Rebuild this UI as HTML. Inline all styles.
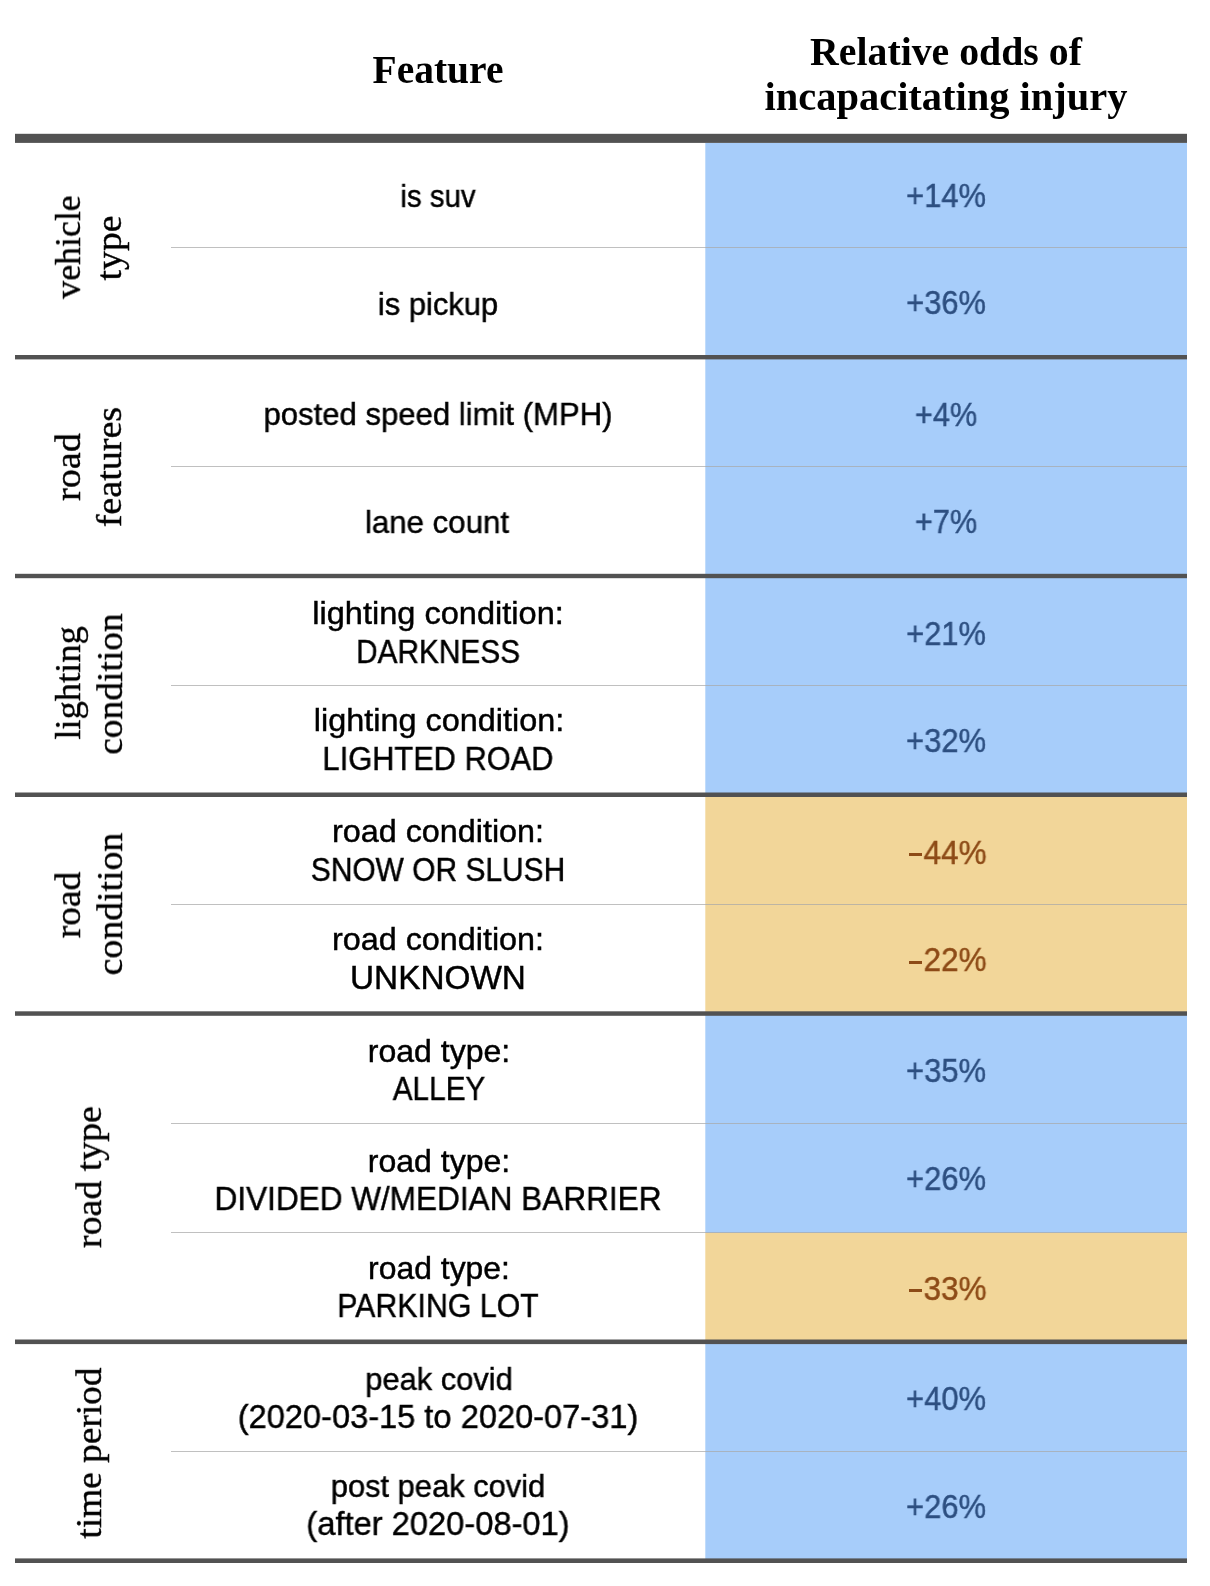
<!DOCTYPE html>
<html><head><meta charset="utf-8"><style>
html,body{margin:0;padding:0;background:#fff;}
body{width:1210px;height:1586px;position:relative;overflow:hidden;}
.a{position:absolute;}
.t,.h,.g{will-change:transform;}
.t{position:absolute;white-space:nowrap;font-family:"Liberation Sans",sans-serif;color:#000;-webkit-text-stroke:0.45px currentColor;text-align:center;width:800px;height:40px;line-height:40px;font-size:32.5px;}
.h{position:absolute;white-space:nowrap;font-family:"Liberation Serif",serif;font-weight:bold;color:#000;text-align:center;width:800px;height:50px;line-height:50px;}
.g{position:absolute;white-space:nowrap;font-family:"Liberation Serif",serif;color:#000;-webkit-text-stroke:0.35px #000;text-align:center;}
</style></head><body>

<div class="a" style="left:706px;top:143px;width:481px;height:105px;background:rgb(167, 205, 250);"></div>
<div class="a" style="left:705px;top:143px;width:1px;height:105px;background:rgba(167,205,250,0.70);"></div>
<div class="a" style="left:706px;top:248px;width:481px;height:107px;background:rgb(167, 205, 250);"></div>
<div class="a" style="left:705px;top:248px;width:1px;height:107px;background:rgba(167,205,250,0.70);"></div>
<div class="a" style="left:706px;top:359px;width:481px;height:108px;background:rgb(167, 205, 250);"></div>
<div class="a" style="left:705px;top:359px;width:1px;height:108px;background:rgba(167,205,250,0.70);"></div>
<div class="a" style="left:706px;top:467px;width:481px;height:107px;background:rgb(167, 205, 250);"></div>
<div class="a" style="left:705px;top:467px;width:1px;height:107px;background:rgba(167,205,250,0.70);"></div>
<div class="a" style="left:706px;top:578px;width:481px;height:108px;background:rgb(167, 205, 250);"></div>
<div class="a" style="left:705px;top:578px;width:1px;height:108px;background:rgba(167,205,250,0.70);"></div>
<div class="a" style="left:706px;top:686px;width:481px;height:107px;background:rgb(167, 205, 250);"></div>
<div class="a" style="left:705px;top:686px;width:1px;height:107px;background:rgba(167,205,250,0.70);"></div>
<div class="a" style="left:706px;top:796px;width:481px;height:109px;background:rgb(242, 214, 153);"></div>
<div class="a" style="left:705px;top:796px;width:1px;height:109px;background:rgba(242,214,153,0.70);"></div>
<div class="a" style="left:706px;top:905px;width:481px;height:107px;background:rgb(242, 214, 153);"></div>
<div class="a" style="left:705px;top:905px;width:1px;height:107px;background:rgba(242,214,153,0.70);"></div>
<div class="a" style="left:706px;top:1015px;width:481px;height:108px;background:rgb(167, 205, 250);"></div>
<div class="a" style="left:705px;top:1015px;width:1px;height:108px;background:rgba(167,205,250,0.70);"></div>
<div class="a" style="left:706px;top:1123px;width:481px;height:110px;background:rgb(167, 205, 250);"></div>
<div class="a" style="left:705px;top:1123px;width:1px;height:110px;background:rgba(167,205,250,0.70);"></div>
<div class="a" style="left:706px;top:1233px;width:481px;height:107px;background:rgb(242, 214, 153);"></div>
<div class="a" style="left:705px;top:1233px;width:1px;height:107px;background:rgba(242,214,153,0.70);"></div>
<div class="a" style="left:706px;top:1343px;width:481px;height:109px;background:rgb(167, 205, 250);"></div>
<div class="a" style="left:705px;top:1343px;width:1px;height:109px;background:rgba(167,205,250,0.70);"></div>
<div class="a" style="left:706px;top:1452px;width:481px;height:107px;background:rgb(167, 205, 250);"></div>
<div class="a" style="left:705px;top:1452px;width:1px;height:107px;background:rgba(167,205,250,0.70);"></div>
<div class="a" style="left:171px;top:247px;width:1016px;height:1px;background:rgba(168,168,168,0.73);"></div>
<div class="a" style="left:171px;top:466px;width:1016px;height:1px;background:rgba(168,168,168,0.73);"></div>
<div class="a" style="left:171px;top:685px;width:1016px;height:1px;background:rgba(168,168,168,0.73);"></div>
<div class="a" style="left:171px;top:904px;width:1016px;height:1px;background:rgba(168,168,168,0.73);"></div>
<div class="a" style="left:171px;top:1123px;width:1016px;height:1px;background:rgba(168,168,168,0.73);"></div>
<div class="a" style="left:171px;top:1232px;width:1016px;height:1px;background:rgba(168,168,168,0.73);"></div>
<div class="a" style="left:171px;top:1451px;width:1016px;height:1px;background:rgba(168,168,168,0.73);"></div>
<div class="a" style="left:15px;top:133px;width:1172px;height:1px;background:rgba(82,82,82,0.20);"></div>
<div class="a" style="left:15px;top:142px;width:1172px;height:1px;background:rgba(82,82,82,0.90);"></div>
<div class="a" style="left:15px;top:134px;width:1172px;height:8px;background:rgb(82,82,82);"></div>
<div class="a" style="left:15px;top:359px;width:1172px;height:1px;background:rgba(82,82,82,0.40);"></div>
<div class="a" style="left:15px;top:355px;width:1172px;height:4px;background:rgb(82,82,82);"></div>
<div class="a" style="left:15px;top:573px;width:1172px;height:1px;background:rgba(82,82,82,0.20);"></div>
<div class="a" style="left:15px;top:578px;width:1172px;height:1px;background:rgba(82,82,82,0.20);"></div>
<div class="a" style="left:15px;top:574px;width:1172px;height:4px;background:rgb(82,82,82);"></div>
<div class="a" style="left:15px;top:792px;width:1172px;height:1px;background:rgba(82,82,82,0.50);"></div>
<div class="a" style="left:15px;top:793px;width:1172px;height:4px;background:rgb(82,82,82);"></div>
<div class="a" style="left:15px;top:1011px;width:1172px;height:1px;background:rgba(82,82,82,0.70);"></div>
<div class="a" style="left:15px;top:1015px;width:1172px;height:1px;background:rgba(82,82,82,0.80);"></div>
<div class="a" style="left:15px;top:1012px;width:1172px;height:3px;background:rgb(82,82,82);"></div>
<div class="a" style="left:15px;top:1339px;width:1172px;height:1px;background:rgba(82,82,82,0.50);"></div>
<div class="a" style="left:15px;top:1344px;width:1172px;height:1px;background:rgba(82,82,82,0.10);"></div>
<div class="a" style="left:15px;top:1340px;width:1172px;height:4px;background:rgb(82,82,82);"></div>
<div class="a" style="left:15px;top:1558px;width:1172px;height:1px;background:rgba(82,82,82,0.60);"></div>
<div class="a" style="left:15px;top:1559px;width:1172px;height:4px;background:rgb(82,82,82);"></div>
<div class="h" style="left:38.00px;top:45.00px;font-size:39px;transform:scaleX(1.0125);">Feature</div>
<div class="h" style="left:545.70px;top:27.00px;font-size:39px;transform:scaleX(1.0199);">Relative odds of</div>
<div class="h" style="left:545.70px;top:72.00px;font-size:39px;transform:scaleX(1.0367);">incapacitating injury</div>
<div class="t" style="left:38.25px;top:176.00px;font-size:31.5px;transform:scaleX(0.9344);">is suv</div>
<div class="t" style="left:37.75px;top:284.00px;font-size:31.5px;transform:scaleX(0.9818);">is pickup</div>
<div class="t" style="left:37.50px;top:394.00px;font-size:31.5px;transform:scaleX(0.9874);">posted speed limit (MPH)</div>
<div class="t" style="left:37.25px;top:502.00px;font-size:31.5px;transform:scaleX(0.9903);">lane count</div>
<div class="t" style="left:38.25px;top:593.00px;font-size:31.5px;transform:scaleX(1.0335);">lighting condition:</div>
<div class="t" style="left:37.50px;top:632.00px;font-size:33.3px;transform:scaleX(0.8956);">DARKNESS</div>
<div class="t" style="left:38.75px;top:700.00px;font-size:31.5px;transform:scaleX(1.0285);">lighting condition:</div>
<div class="t" style="left:38.00px;top:739.00px;font-size:33.3px;transform:scaleX(0.9244);">LIGHTED ROAD</div>
<div class="t" style="left:38.00px;top:811.00px;font-size:31.5px;transform:scaleX(1.0266);">road condition:</div>
<div class="t" style="left:38.00px;top:850.00px;font-size:33.3px;transform:scaleX(0.8989);">SNOW OR SLUSH</div>
<div class="t" style="left:38.00px;top:919.00px;font-size:31.5px;transform:scaleX(1.0266);">road condition:</div>
<div class="t" style="left:38.25px;top:958.00px;font-size:33.3px;transform:scaleX(1.0012);">UNKNOWN</div>
<div class="t" style="left:38.50px;top:1031.00px;font-size:31.5px;transform:scaleX(1.0164);">road type:</div>
<div class="t" style="left:38.50px;top:1069.00px;font-size:33.3px;transform:scaleX(0.8933);">ALLEY</div>
<div class="t" style="left:38.50px;top:1141.00px;font-size:31.5px;transform:scaleX(1.0164);">road type:</div>
<div class="t" style="left:38.00px;top:1179.00px;font-size:33.3px;transform:scaleX(0.9479);">DIVIDED W/MEDIAN BARRIER</div>
<div class="t" style="left:38.50px;top:1248.00px;font-size:31.5px;transform:scaleX(1.0120);">road type:</div>
<div class="t" style="left:38.25px;top:1286.00px;font-size:33.3px;transform:scaleX(0.9101);">PARKING LOT</div>
<div class="t" style="left:38.50px;top:1359.00px;font-size:31.5px;transform:scaleX(0.9796);">peak covid</div>
<div class="t" style="left:38.10px;top:1397.00px;font-size:33.3px;transform:scaleX(0.9790);">(2020-03-15 to 2020-07-31)</div>
<div class="t" style="left:38.00px;top:1466.00px;font-size:31.5px;transform:scaleX(0.9786);">post peak covid</div>
<div class="t" style="left:37.70px;top:1504.00px;font-size:33.3px;transform:scaleX(0.9811);">(after 2020-08-01)</div>
<div class="t" style="left:546.20px;top:176.00px;font-size:33.3px;color:#2d4f80;transform:scaleX(0.9279);">+14%</div>
<div class="t" style="left:546.30px;top:283.00px;font-size:33.3px;color:#2d4f80;transform:scaleX(0.9254);">+36%</div>
<div class="t" style="left:546.40px;top:395.00px;font-size:33.3px;color:#2d4f80;transform:scaleX(0.9201);">+4%</div>
<div class="t" style="left:546.40px;top:502.00px;font-size:33.3px;color:#2d4f80;transform:scaleX(0.9201);">+7%</div>
<div class="t" style="left:546.30px;top:614.00px;font-size:33.3px;color:#2d4f80;transform:scaleX(0.9254);">+21%</div>
<div class="t" style="left:546.10px;top:721.00px;font-size:33.3px;color:#2d4f80;transform:scaleX(0.9302);">+32%</div>
<div class="a" style="left:908.6px;top:853.05px;width:13.4px;height:3px;background:#8d4b17;"></div>
<div class="t" style="left:554.80px;top:833.00px;font-size:33.3px;color:#8d4b17;transform:scaleX(0.9469);">44%</div>
<div class="a" style="left:908.6px;top:960.75px;width:13.4px;height:3px;background:#8d4b17;"></div>
<div class="t" style="left:554.80px;top:940.00px;font-size:33.3px;color:#8d4b17;transform:scaleX(0.9469);">22%</div>
<div class="t" style="left:546.10px;top:1051.00px;font-size:33.3px;color:#2d4f80;transform:scaleX(0.9302);">+35%</div>
<div class="t" style="left:546.10px;top:1159.00px;font-size:33.3px;color:#2d4f80;transform:scaleX(0.9302);">+26%</div>
<div class="a" style="left:908.6px;top:1288.85px;width:13.4px;height:3px;background:#8d4b17;"></div>
<div class="t" style="left:554.80px;top:1269.00px;font-size:33.3px;color:#8d4b17;transform:scaleX(0.9469);">33%</div>
<div class="t" style="left:546.10px;top:1379.00px;font-size:33.3px;color:#2d4f80;transform:scaleX(0.9302);">+40%</div>
<div class="t" style="left:546.10px;top:1487.00px;font-size:33.3px;color:#2d4f80;transform:scaleX(0.9302);">+26%</div>
<div class="g" style="left:-81.98px;top:226.90px;width:300px;height:40px;font-size:35.5px;line-height:40px;transform:rotate(-90deg) scaleX(1.0100);">vehicle</div>
<div class="g" style="left:-41.48px;top:228.20px;width:300px;height:40px;font-size:35.5px;line-height:40px;transform:rotate(-90deg) scaleX(1.0601);">type</div>
<div class="g" style="left:-81.78px;top:446.60px;width:300px;height:40px;font-size:35.5px;line-height:40px;transform:rotate(-90deg) scaleX(1.0727);">road</div>
<div class="g" style="left:-40.58px;top:446.60px;width:300px;height:40px;font-size:35.5px;line-height:40px;transform:rotate(-90deg) scaleX(1.0728);">features</div>
<div class="g" style="left:-81.78px;top:662.80px;width:300px;height:40px;font-size:35.5px;line-height:40px;transform:rotate(-90deg) scaleX(1.0277);">lighting</div>
<div class="g" style="left:-40.48px;top:663.60px;width:300px;height:40px;font-size:35.5px;line-height:40px;transform:rotate(-90deg) scaleX(1.0569);">condition</div>
<div class="g" style="left:-81.78px;top:885.40px;width:300px;height:40px;font-size:35.5px;line-height:40px;transform:rotate(-90deg) scaleX(1.0569);">road</div>
<div class="g" style="left:-40.48px;top:884.40px;width:300px;height:40px;font-size:35.5px;line-height:40px;transform:rotate(-90deg) scaleX(1.0644);">condition</div>
<div class="g" style="left:-61.08px;top:1157.40px;width:300px;height:40px;font-size:35.5px;line-height:40px;transform:rotate(-90deg) scaleX(1.0649);">road type</div>
<div class="g" style="left:-61.08px;top:1432.90px;width:300px;height:40px;font-size:35.5px;line-height:40px;transform:rotate(-90deg) scaleX(1.0525);">time period</div>
</body></html>
